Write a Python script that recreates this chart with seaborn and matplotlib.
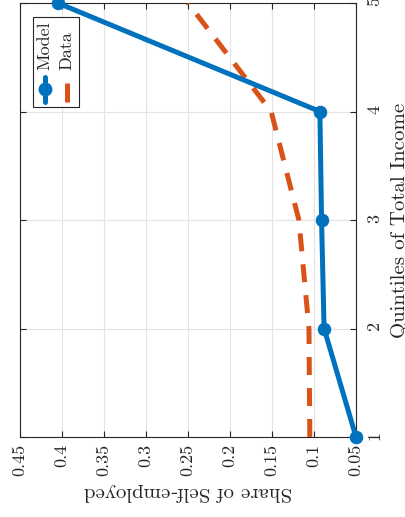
import numpy as np
import pandas as pd
import matplotlib
matplotlib.use("Agg")
import matplotlib.pyplot as plt
import seaborn as sns
from matplotlib.patches import Rectangle

quintiles = [1, 2, 3, 4, 5]
model_share = [0.050, 0.088, 0.091, 0.093, 0.405]
data_share = [0.105, 0.106, 0.118, 0.151, 0.250]
share_ticks = [0.05, 0.1, 0.15, 0.2, 0.25, 0.3, 0.35, 0.4, 0.45]
share_labels = ["0.05", "0.1", "0.15", "0.2", "0.25", "0.3", "0.35", "0.4", "0.45"]

blue = "#0072BD"
orange = "#D95319"

sns.set_theme(style="white")
plt.rcParams["font.family"] = ["cmr10", "DejaVu Serif"]
plt.rcParams["axes.formatter.use_mathtext"] = True

fig = plt.figure(figsize=(4.06, 5.17), dpi=100)
ax = fig.add_axes([20 / 406, 80 / 517, 336 / 406, 434 / 517])

df = pd.DataFrame({"quintile": quintiles, "model": model_share, "data": data_share})

sns.lineplot(data=df, x="data", y="quintile", sort=False, estimator=None,
             color=orange, linewidth=3.6, ax=ax, zorder=3)
ax.lines[-1].set_dashes([3.6, 2.6])
sns.lineplot(data=df, x="model", y="quintile", sort=False, estimator=None,
             color=blue, linewidth=3.6, marker="o", markersize=9,
             markeredgecolor=blue, ax=ax, zorder=4, clip_on=False)

ax.set_xlim(0.45, 0.05)
ax.set_ylim(1, 5)
ax.set_xticks(share_ticks)
ax.set_xticklabels(share_labels, rotation=90, fontsize=13)
ax.set_yticks(quintiles)
ax.set_yticklabels([str(q) for q in quintiles], rotation=90, fontsize=13)

ax.yaxis.set_label_position("right")
ax.set_ylabel("Quintiles of Total Income", fontsize=15, rotation=90, labelpad=6)
ax.set_xlabel("Share of Self-employed", fontsize=15, rotation=180, labelpad=5)

ax.grid(True, color="#e3e3e3", linewidth=0.8)
ax.set_axisbelow(True)
ax.tick_params(axis="both", direction="in", length=4, width=0.8, color="#262626",
               top=True, bottom=True, left=True, right=True,
               labelleft=False, labelright=True, labelcolor="#262626")
ax.tick_params(axis="x", pad=5)
ax.tick_params(axis="y", pad=8)
for sp in ax.spines.values():
    sp.set_visible(True)
    sp.set_color("#262626")
    sp.set_linewidth(0.8)

# rotated legend, drawn by hand
ax.add_patch(Rectangle((0.0387, 0.7604), 0.1369, 0.2073, transform=ax.transAxes,
                       facecolor="white", edgecolor="#262626", linewidth=0.8, zorder=5))
ax.plot([0.0744, 0.0744], [0.7719, 0.8295], transform=ax.transAxes,
        color=blue, linewidth=3.6, zorder=6)
ax.plot([0.0744], [0.8018], transform=ax.transAxes, marker="o", markersize=9,
        color=blue, zorder=6)
ax.plot([0.1399, 0.1399], [0.7719, 0.8157], transform=ax.transAxes,
        color=orange, linewidth=3.6, zorder=6, solid_capstyle="butt")
ax.text(0.0744, 0.8456, "Model", transform=ax.transAxes, rotation=90,
        rotation_mode="anchor", ha="left", va="center", fontsize=13, zorder=7)
ax.text(0.1399, 0.8456, "Data", transform=ax.transAxes, rotation=90,
        rotation_mode="anchor", ha="left", va="center", fontsize=13, zorder=7)

fig.savefig("out.png", dpi=100, facecolor="w")
